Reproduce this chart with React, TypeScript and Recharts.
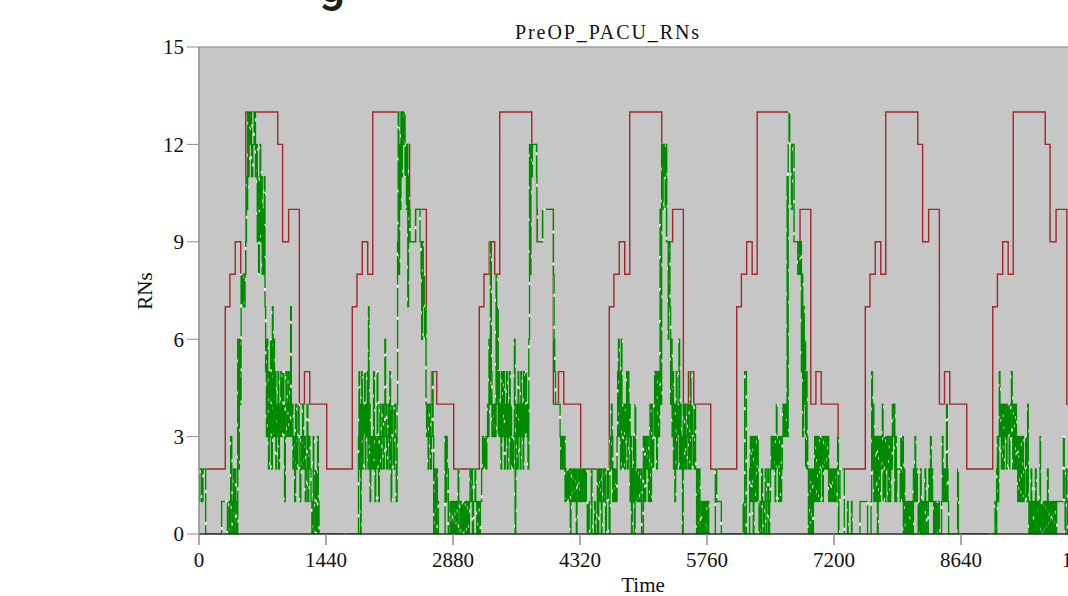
import { CartesianGrid, Line, LineChart, ReferenceLine, XAxis, YAxis } from "recharts";

const serif = "'Liberation Serif', 'Times New Roman', serif";

// staffing plan: each day starts a ramp, levels change at these offsets (minutes)
const rampStarts = [298, 1738, 3178, 4652, 6097, 7555, 9000];
const shiftOffsets = [0, 53, 113, 175, 232, 595, 650, 718, 840, 898, 958, 1150];
const shiftLevels = [7, 8, 9, 8, 13, 12, 9, 10, 4, 5, 4, 2];
const overnightLevel = 2;

const xTicks = [0, 1440, 2880, 4320, 5760, 7200, 8640, 10080];
const yTicks = [0, 3, 6, 9, 12, 15];

// busy RNs, [minute of day, count]
const day1Busy = [
  [0, 1], [8, 2], [30, 1], [45, 2], [76, 0], [257, 1], [322, 0], [340, 1], [352, 0], [360, 3], [372, 1], [378, 0],
  [392, 2], [398, 0], [410, 2], [418, 1], [428, 0], [440, 6], [448, 2], [456, 6], [464, 4], [477, 8], [490, 7],
  [500, 8], [512, 7], [522, 8], [530, 9], [538, 11], [546, 10], [552, 13], [560, 11], [568, 13], [578, 12], [586, 13],
  [596, 11], [610, 12], [625, 13], [640, 11], [652, 12], [660, 9], [668, 11], [676, 8], [684, 10], [692, 12], [700, 9],
  [708, 11], [716, 8], [724, 10], [732, 8], [740, 11], [748, 7], [756, 5], [764, 3], [772, 6], [780, 4], [788, 2],
  [796, 5], [804, 3], [812, 6], [820, 2], [832, 7], [840, 3], [848, 6], [856, 3], [864, 5], [872, 2], [880, 4],
  [888, 3], [896, 5], [904, 2], [912, 4], [920, 3], [928, 5], [936, 3], [945, 4], [953, 5], [962, 3], [970, 1],
  [978, 4], [986, 5], [996, 3], [1005, 4], [1014, 5], [1022, 3], [1030, 4], [1040, 7], [1046, 3], [1055, 4], [1065, 2],
  [1075, 3], [1085, 1], [1095, 4], [1105, 2], [1115, 3], [1125, 4], [1135, 2], [1145, 1], [1155, 3], [1165, 2],
  [1175, 4], [1185, 2], [1195, 3], [1205, 1], [1215, 2], [1225, 4], [1235, 1], [1245, 3], [1258, 2], [1270, 1],
  [1280, 0], [1295, 3], [1302, 0], [1320, 2], [1328, 0], [1345, 3], [1352, 1], [1361, 0],
];
const day2Busy = [
  [0, 0], [368, 3], [374, 5], [380, 2], [386, 4], [392, 0], [398, 3], [404, 5], [410, 2], [420, 4], [428, 3], [436, 5],
  [444, 2], [452, 4], [460, 3], [468, 5], [476, 2], [482, 7], [488, 3], [496, 4], [500, 1], [508, 3], [516, 2],
  [524, 3], [532, 2], [540, 5], [548, 3], [556, 1], [564, 3], [572, 2], [580, 5], [588, 2], [596, 1], [604, 3],
  [612, 4], [620, 2], [630, 3], [640, 4], [650, 2], [660, 3], [668, 6], [676, 4], [686, 2], [696, 3], [706, 4],
  [716, 2], [724, 5], [732, 3], [738, 1], [746, 4], [756, 3], [766, 2], [776, 4], [786, 3], [796, 1], [806, 4],
  [812, 9], [818, 13], [826, 8], [834, 12], [842, 10], [850, 13], [858, 11], [866, 13], [876, 12], [886, 13],
  [896, 11], [904, 12], [912, 10], [920, 12], [928, 7], [936, 11], [944, 10], [953, 9], [1017, 10], [1066, 9],
  [1078, 8], [1086, 6], [1094, 9], [1102, 7], [1110, 8], [1118, 6], [1126, 7], [1134, 4], [1142, 3], [1150, 4],
  [1158, 2], [1166, 3], [1176, 4], [1186, 2], [1196, 3], [1206, 5], [1214, 3], [1222, 0], [1236, 2], [1244, 0],
  [1256, 2], [1262, 1], [1274, 0], [1350, 3], [1358, 1], [1366, 3], [1374, 2], [1386, 0], [1406, 1], [1418, 0],
  [1428, 1],
];
const day3Busy = [
  [0, 0], [10, 1], [22, 0], [34, 1], [46, 0], [58, 2], [66, 1], [78, 0], [90, 1], [102, 0], [114, 1], [126, 0],
  [138, 1], [150, 0], [162, 1], [174, 0], [186, 1], [193, 2], [200, 1], [212, 2], [220, 0], [232, 1], [250, 2],
  [258, 1], [270, 0], [282, 1], [294, 0], [310, 1], [325, 2], [336, 3], [344, 2], [352, 3], [360, 2], [368, 3],
  [376, 2], [384, 3], [392, 4], [400, 3], [408, 6], [416, 4], [424, 9], [434, 5], [442, 3], [450, 4], [460, 3],
  [470, 4], [480, 3], [488, 8], [496, 4], [504, 7], [512, 3], [520, 5], [528, 3], [536, 4], [544, 2], [552, 5],
  [560, 3], [568, 4], [576, 5], [584, 2], [592, 4], [600, 3], [608, 5], [616, 2], [624, 4], [632, 3], [640, 5],
  [648, 2], [656, 4], [664, 3], [672, 2], [684, 3], [696, 6], [704, 0], [712, 3], [722, 4], [730, 2], [738, 5],
  [746, 3], [754, 4], [762, 2], [770, 5], [778, 3], [786, 4], [794, 2], [802, 5], [810, 3], [818, 4], [826, 5],
  [834, 3], [842, 4], [850, 2], [860, 6], [868, 12], [876, 8], [884, 12], [892, 11], [900, 12], [948, 11], [952, 10],
  [956, 9], [1016, 10], [1138, 8], [1146, 6], [1154, 5], [1162, 4], [1214, 3], [1222, 2], [1230, 3], [1238, 2],
  [1246, 3], [1254, 2], [1262, 3], [1270, 1], [1280, 2], [1290, 1], [1300, 2], [1310, 1], [1320, 2], [1330, 0],
  [1338, 1], [1348, 2], [1358, 1], [1368, 2], [1378, 1], [1388, 2], [1398, 0], [1406, 1], [1416, 2], [1426, 1],
];
const day4Busy = [
  [0, 2], [8, 1], [16, 2], [24, 1], [32, 2], [40, 1], [48, 2], [56, 1], [64, 2], [72, 1], [82, 0], [92, 1], [104, 0],
  [128, 2], [136, 0], [166, 1], [174, 0], [196, 2], [204, 0], [212, 2], [220, 1], [234, 2], [242, 0], [250, 1],
  [262, 2], [270, 1], [282, 2], [290, 0], [300, 1], [310, 2], [320, 1], [330, 0], [340, 3], [348, 2], [356, 4],
  [364, 3], [372, 1], [380, 2], [390, 1], [400, 2], [410, 1], [420, 3], [428, 5], [436, 6], [444, 3], [452, 5],
  [460, 2], [468, 6], [476, 4], [484, 2], [492, 4], [500, 3], [508, 2], [516, 4], [524, 3], [530, 5], [538, 2],
  [546, 5], [554, 3], [562, 4], [568, 1], [576, 3], [584, 0], [592, 2], [600, 1], [608, 3], [616, 0], [624, 4],
  [632, 1], [640, 2], [648, 1], [660, 2], [672, 1], [690, 2], [699, 0], [718, 3], [735, 1], [745, 3], [755, 2],
  [765, 3], [775, 1], [785, 2], [794, 4], [802, 1], [810, 3], [818, 4], [826, 2], [836, 3], [846, 5], [854, 3],
  [862, 5], [870, 2], [878, 4], [886, 5], [894, 3], [902, 5], [908, 10], [916, 4], [926, 12], [934, 10], [942, 12],
  [950, 11], [958, 12], [966, 10], [974, 12], [982, 9], [1000, 6], [1006, 9], [1020, 7], [1028, 4], [1036, 6],
  [1044, 3], [1052, 5], [1060, 2], [1068, 4], [1076, 1], [1084, 3], [1092, 5], [1100, 2], [1108, 4], [1116, 3],
  [1122, 6], [1130, 2], [1138, 4], [1146, 2], [1154, 3], [1162, 0], [1170, 4], [1178, 2], [1186, 3], [1194, 4],
  [1202, 2], [1212, 3], [1222, 4], [1232, 2], [1242, 3], [1250, 5], [1258, 2], [1266, 4], [1276, 3], [1286, 2],
  [1296, 4], [1310, 2], [1322, 0], [1330, 2], [1340, 0], [1350, 2], [1360, 0], [1378, 1], [1386, 0], [1394, 1],
  [1402, 0], [1410, 1], [1418, 0], [1426, 1],
];
const day5Busy = [
  [0, 0], [12, 1], [20, 0], [94, 2], [110, 1], [162, 0], [410, 1], [418, 0], [428, 5], [446, 0], [484, 2], [492, 3],
  [500, 1], [508, 3], [516, 2], [524, 0], [532, 3], [540, 1], [548, 3], [556, 2], [564, 1], [572, 3], [580, 1],
  [590, 0], [600, 1], [610, 0], [620, 2], [630, 1], [640, 0], [650, 1], [660, 2], [670, 0], [680, 1], [690, 2],
  [700, 0], [710, 1], [720, 2], [728, 3], [736, 2], [744, 3], [752, 2], [762, 3], [772, 1], [780, 2], [786, 4],
  [794, 2], [804, 3], [812, 1], [820, 2], [828, 3], [836, 1], [846, 2], [854, 3], [862, 4], [870, 3], [878, 4],
  [886, 3], [894, 4], [902, 3], [908, 11], [914, 3], [920, 12], [930, 13], [938, 12], [958, 10], [966, 12],
  [987, 9], [1030, 8], [1040, 9], [1050, 8], [1060, 9], [1070, 5], [1078, 8], [1086, 3], [1094, 7], [1102, 4],
  [1110, 6], [1118, 2], [1126, 5], [1134, 3], [1142, 2], [1150, 0], [1158, 2], [1166, 1], [1174, 0], [1182, 2],
  [1190, 1], [1198, 0], [1206, 2], [1214, 1], [1222, 3], [1230, 1], [1238, 2], [1246, 3], [1254, 1], [1262, 3],
  [1270, 2], [1278, 1], [1286, 3], [1294, 2], [1302, 3], [1310, 1], [1318, 2], [1326, 3], [1336, 2], [1346, 3],
  [1356, 2], [1370, 3], [1380, 1], [1390, 2], [1400, 1], [1412, 2], [1424, 1], [1436, 2],
];
const day6Busy = [
  [0, 1], [10, 2], [20, 1], [30, 2], [42, 3], [50, 0], [56, 1], [68, 2], [117, 0], [154, 1], [160, 0], [198, 1],
  [204, 0], [295, 1], [381, 0], [420, 1], [428, 5], [436, 2], [444, 4], [452, 1], [460, 3], [468, 1], [476, 2],
  [484, 3], [492, 0], [500, 2], [508, 3], [516, 1], [524, 3], [532, 2], [540, 3], [548, 4], [556, 1], [564, 3],
  [572, 2], [580, 1], [588, 3], [596, 2], [604, 3], [612, 1], [620, 2], [628, 3], [636, 1], [644, 3], [652, 2],
  [662, 4], [672, 3], [682, 4], [690, 1], [698, 3], [706, 1], [712, 2], [750, 1], [758, 3], [766, 1], [778, 3],
  [786, 0], [794, 2], [802, 1], [810, 0], [818, 1], [826, 0], [834, 1], [842, 0], [850, 1], [858, 0], [866, 1],
  [874, 0], [882, 1], [890, 0], [900, 2], [910, 1], [918, 3], [926, 1], [934, 2], [944, 1], [954, 0], [962, 1],
  [970, 0], [980, 2], [988, 0], [996, 1], [1004, 0], [1014, 1], [1022, 0], [1032, 2], [1040, 1], [1050, 0],
  [1068, 1], [1076, 2], [1084, 1], [1094, 3], [1102, 1], [1110, 2], [1118, 1], [1130, 0], [1138, 1], [1146, 0],
  [1154, 1], [1162, 0], [1170, 1], [1178, 0], [1186, 1], [1194, 0], [1220, 1], [1228, 3], [1236, 1], [1244, 2],
  [1252, 1], [1262, 2], [1270, 1], [1276, 4], [1284, 2], [1292, 1], [1300, 0], [1402, 2], [1410, 0],
];
const day7Busy = [
  [0, 0], [386, 1], [396, 0], [405, 2], [412, 3], [420, 1], [428, 3], [434, 5], [442, 3], [450, 4], [458, 2],
  [466, 4], [474, 3], [482, 2], [490, 4], [498, 3], [506, 4], [514, 2], [522, 4], [530, 3], [538, 4], [546, 2],
  [554, 3], [562, 4], [572, 5], [580, 3], [588, 2], [596, 4], [604, 2], [612, 3], [620, 4], [628, 2], [636, 3],
  [644, 1], [652, 2], [660, 3], [668, 1], [676, 3], [684, 2], [692, 1], [700, 3], [708, 2], [716, 1], [724, 2],
  [734, 3], [744, 1], [756, 4], [762, 1], [770, 0], [778, 1], [786, 0], [794, 2], [802, 0], [810, 1], [818, 0],
  [826, 1], [836, 0], [844, 2], [852, 0], [860, 1], [870, 0], [880, 1], [888, 0], [896, 3], [902, 1], [910, 0],
  [920, 1], [930, 0], [940, 1], [950, 0], [960, 1], [970, 0], [980, 2], [988, 0], [1000, 1], [1010, 0], [1020, 1],
  [1030, 0], [1040, 1], [1050, 0], [1060, 1], [1070, 0], [1085, 1], [1161, 3], [1170, 1], [1180, 0], [1190, 2],
  [1200, 1], [1210, 0], [1220, 2], [1240, 0],
];
const busyByDay = [day1Busy, day2Busy, day3Busy, day4Busy, day5Busy, day6Busy, day7Busy];

const staffData = [
  { t: 0, staff: overnightLevel },
  ...rampStarts.flatMap((start) =>
    shiftOffsets.map((offset, i) => ({ t: start + offset, staff: shiftLevels[i] }))
  ),
];

const busyData = busyByDay.flatMap((day, d) => day.map(([minute, count]) => ({ t: d * 1440 + minute, busy: count })));

export default function App() {
  return (
    <div style={{ position: "fixed", left: 0, top: 0, width: 1068, height: 596, overflow: "hidden", background: "#fff" }}>
      <div style={{ position: "absolute", left: 0, top: 0 }}>
        <LineChart width={1140} height={596} margin={{ top: 47, right: 52, bottom: 0, left: 0 }}>
          <CartesianGrid fill="#c6c6c6" horizontal={false} vertical={false} />
          <ReferenceLine y={15} stroke="#a2a2a2" strokeWidth={1.5} />
          <XAxis
            dataKey="t"
            type="number"
            domain={[0, 10080]}
            ticks={xTicks}
            interval={0}
            allowDataOverflow
            height={62}
            tickSize={11}
            tickMargin={7}
            axisLine={{ stroke: "#2b2b2b", strokeWidth: 1.5 }}
            tickLine={{ stroke: "#8e8e8e", strokeWidth: 1.5 }}
            tick={{ fill: "#111", fontSize: 21, fontFamily: serif }}
          />
          <YAxis
            type="number"
            domain={[0, 15]}
            ticks={yTicks}
            interval={0}
            allowDataOverflow
            width={199}
            tickSize={12}
            tickMargin={3}
            axisLine={{ stroke: "#8e8e8e", strokeWidth: 1.5 }}
            tickLine={{ stroke: "#8e8e8e" }}
            tick={{ fill: "#111", fontSize: 21, fontFamily: serif }}
          />
          <Line
            data={staffData}
            dataKey="staff"
            type="stepAfter"
            stroke="#a3262a"
            strokeWidth={1.4}
            dot={false}
            activeDot={false}
            isAnimationActive={false}
          />
          <Line
            data={busyData}
            dataKey="busy"
            type="stepAfter"
            stroke="#ffffff"
            strokeWidth={1.5}
            dot={false}
            activeDot={false}
            isAnimationActive={false}
          />
          <Line
            data={busyData}
            dataKey="busy"
            type="stepAfter"
            stroke="#008a00"
            strokeWidth={1.5}
            strokeDasharray="29 3"
            dot={false}
            activeDot={false}
            isAnimationActive={false}
          />
        </LineChart>
      </div>
      <svg width={1068} height={596} style={{ position: "absolute", left: 0, top: 0, pointerEvents: "none" }}>
        <text x={319} y={2} fontFamily="Roboto, 'DejaVu Sans', sans-serif" fontSize={46} fontWeight={500} fill="#1e1e1e">
          g
        </text>
        <text x={608} y={39} textAnchor="middle" fontFamily={serif} fontSize={20} letterSpacing={1.9} fill="#111">
          PreOP_PACU_RNs
        </text>
        <text x={643} y={592} textAnchor="middle" fontFamily={serif} fontSize={21} fill="#111">
          Time
        </text>
        <text transform="translate(152,291) rotate(-90)" textAnchor="middle" fontFamily={serif} fontSize={21} fill="#111">
          RNs
        </text>
      </svg>
    </div>
  );
}
